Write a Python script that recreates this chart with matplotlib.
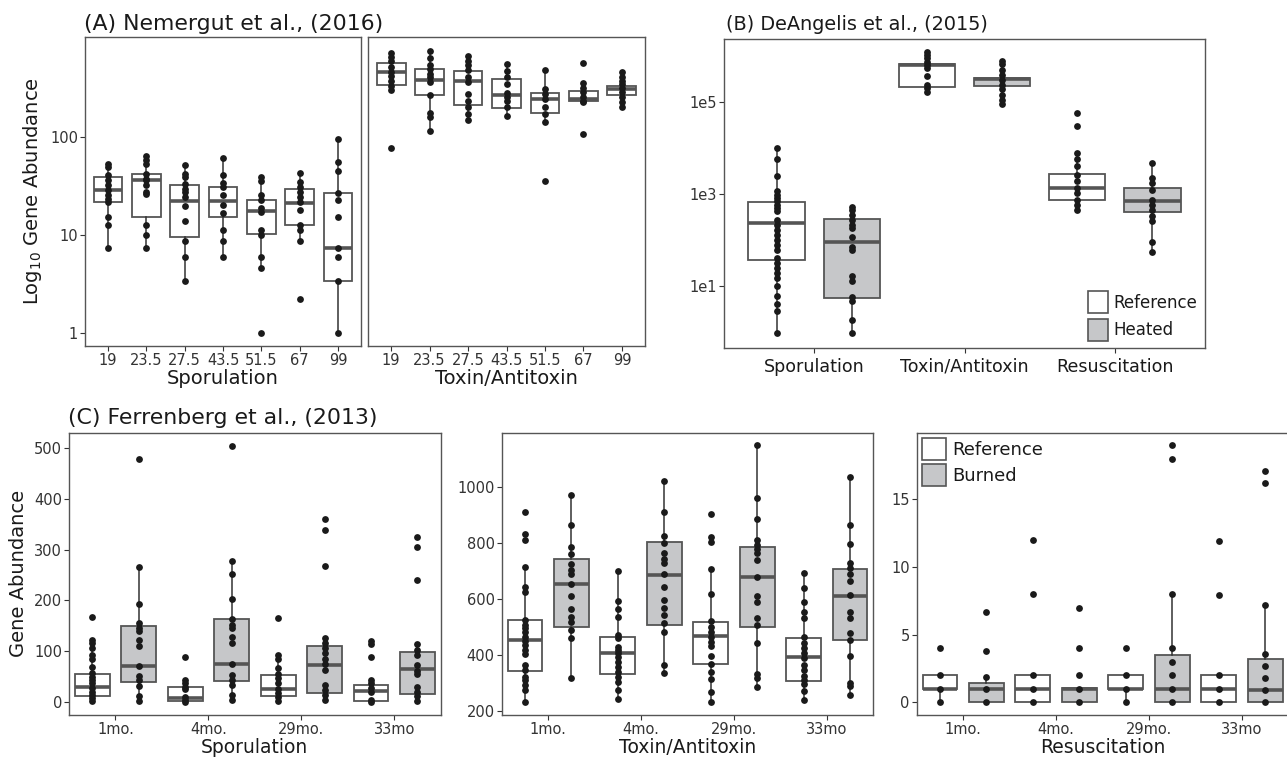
import numpy as np
import matplotlib.pyplot as plt
from matplotlib.patches import Patch

W, H = 1287, 758
fig = plt.figure(figsize=(W / 100, H / 100), dpi=100)

EDGE = '#555555'
GREY = '#C6C7C9'
DOT = '#1a1a1a'
TXT = '#1a1a1a'
TICK = '#333333'

# ---------------- Panel A : Nemergut et al. (2016) ----------------
A_categories = ['19', '23.5', '27.5', '43.5', '51.5', '67', '99']

A_spor_points = [
    [52.7, 49.5, 40.8, 36.2, 32.7, 29.1, 25.5, 23.2, 21.5, 15.3, 12.6, 7.3],
    [63.6, 58, 52.7, 42.3, 37.7, 36.2, 32.2, 27.6, 26.5, 12.6, 10, 7.3],
    [51.5, 42.3, 39.3, 33.5, 29.8, 27.6, 24.6, 19.7, 14, 8.6, 5.9, 3.4],
    [61.3, 40.8, 34, 31, 25.5, 20.2, 16.9, 11.2, 8.6, 5.9],
    [39.3, 35.7, 25.5, 22.7, 18.7, 17.1, 11.2, 10, 5.9, 4.6, 1.0],
    [43.3, 34.8, 31, 27.6, 24.6, 21.8, 18, 12.6, 11.2, 8.6, 2.2],
    [96, 55.5, 45, 27, 22.7, 15.3, 7.3, 5.9, 3.4, 1.0],
]
A_spor_q1 = [21.5, 15.3, 9.6, 15.1, 10.2, 12.6, 3.4]
A_spor_med = [28.7, 36.2, 22.3, 22.3, 17.5, 21.3, 7.3]
A_spor_q3 = [39.3, 41.5, 32.7, 30.6, 22.7, 29.8, 27]
A_spor_lo = [7.3, 7.3, 3.4, 5.9, 4.6, 8.6, 1.0]
A_spor_hi = [52.7, 63.6, 51.5, 61.3, 39.3, 43.3, 96]

A_tox_points = [
    [720, 660, 600, 516, 459, 424, 377, 335, 303, 78.2],
    [763, 642, 550, 498, 445, 408, 364, 270, 176, 160, 114],
    [675, 600, 538, 480, 410, 364, 276, 235, 202, 172, 150],
    [556, 472, 410, 349, 280, 256, 235, 202, 163],
    [481, 310, 276, 245, 202, 172, 143, 35.7],
    [574, 354, 317, 287, 256, 235, 228, 108],
    [458, 410, 377, 349, 317, 287, 256, 228, 205],
]
A_tox_q1 = [340, 268, 212, 200, 176, 235, 268]
A_tox_med = [463, 385, 370, 270, 246, 245, 308]
A_tox_q3 = [574, 498, 472, 391, 281, 298, 333]
A_tox_lo = [303, 114, 150, 163, 143, 228, 205]
A_tox_hi = [720, 763, 675, 556, 481, 354, 458]

# ---------------- Panel B : DeAngelis et al. (2015) ----------------
B_categories = ['Sporulation', 'Toxin/Antitoxin', 'Resuscitation']
B_groups = ['Reference', 'Heated']

B_ref_points = [
    [10100, 5660, 2390, 1130, 960, 813, 690, 584, 494, 419, 276, 215, 168, 131,
     102, 80, 62, 41, 32, 25, 19.4, 15, 10, 6.1, 4.2, 2.9, 0.98],
    [1.2e6, 1.02e6, 8.65e5, 7.3e5, 6.2e5, 5.25e5, 3.6e5, 2.28e5, 1.94e5, 1.64e5],
    [5.6e4, 2.9e4, 7640, 5660, 3930, 2600, 1860, 1340, 1040, 748, 584, 455],
]
B_ref_q1 = [36.5, 2.04e5, 723]
B_ref_med = [234, 6.3e5, 1315]
B_ref_q3 = [665, 6.6e5, 2690]
B_ref_lo = [0.98, 1.64e5, 455]
B_ref_hi = [10100, 1.2e6, 7640]

B_heat_points = [
    [519, 440, 355, 276, 215, 182, 115, 71, 60, 17, 12.8, 5.8, 4.7, 1.9, 0.98],
    [7.6e5, 6.4e5, 4.8e5, 3.8e5, 2.9e5, 2.3e5, 1.85e5, 1.39e5, 1.09e5, 8.8e4],
    [4650, 2200, 1710, 1230, 750, 584, 455, 326, 254, 89, 54],
]
B_heat_q1 = [5.6, 2.18e5, 405]
B_heat_med = [89, 3.09e5, 690]
B_heat_q3 = [281, 3.3e5, 1340]
B_heat_lo = [0.98, 8.8e4, 54]
B_heat_hi = [519, 7.6e5, 4650]

# ---------------- Panel C : Ferrenberg et al. (2013) ----------------
C_categories = ['1mo.', '4mo.', '29mo.', '33mo']
C_groups = ['Reference', 'Burned']

C_spor_ref_points = [
    [167.6, 122, 115.4, 105.6, 92.6, 84, 69.8, 56.7, 50.2, 43.7, 37.2, 28.7, 20.9, 14.3, 7.8, 1.3],
    [89, 43.7, 37.2, 30.6, 25.4, 11, 4.6, 0],
    [165.6, 92.6, 84, 67.8, 55.4, 47, 37.2, 26, 17.6, 9.8, 1.3],
    [120.6, 114, 89, 43.7, 37.2, 28.7, 20.9, 3.3, 0],
]
C_spor_ref_q1 = [12.4, 1.3, 12.4, 2.6]
C_spor_ref_med = [30.6, 7.8, 25.4, 22.2]
C_spor_ref_q3 = [54.8, 30.6, 53.5, 34.6]
C_spor_ref_lo = [1.3, 0, 1.3, 0]
C_spor_ref_hi = [115.4, 43.7, 92.6, 43.7]

C_spor_burn_points = [
    [478, 265, 193.6, 156.5, 146.7, 140, 123, 110, 71, 51.5, 43.7, 32.6, 13, 2.6],
    [503, 278, 252, 203, 164, 151, 145, 128, 117, 75, 53.5, 43.7, 33.9, 14.3, 3.3],
    [360, 338, 267, 127, 115.4, 105.6, 95.8, 84, 75, 63.2, 33.9, 24.1, 14.3, 3.3],
    [324, 304.5, 240.6, 114, 102, 92.6, 73, 61.3, 55.4, 30.6, 20.9, 12.4, 2.6],
]
C_spor_burn_q1 = [40.4, 42.4, 17.6, 16.3]
C_spor_burn_med = [71, 75, 73, 65.8]
C_spor_burn_q3 = [150, 164, 110, 97.8]
C_spor_burn_lo = [2.6, 3.3, 3.3, 2.6]
C_spor_burn_hi = [265, 278, 127, 114]

C_tox_ref_points = [
    [910.7, 831, 809.5, 714, 643, 622.6, 523.8, 506, 494, 482, 464, 450, 434.5,
     416.7, 401, 363, 345, 321, 309.5, 291.7, 274, 232],
    [698.8, 593, 562, 535.7, 470, 458, 428.6, 416.7, 404.8, 393, 375, 357, 339,
     321.4, 303.6, 273.8, 240.5],
    [901, 821.4, 801, 707, 617.9, 519, 500, 482, 464, 446, 431, 396.4, 366.7,
     339, 314, 268, 229.8],
    [692.9, 637, 587, 553.6, 532, 464, 440.5, 422.6, 404.8, 387, 363, 345,
     323.8, 309.5, 295, 270, 238],
]
C_tox_ref_q1 = [341.7, 329.8, 366.7, 307]
C_tox_ref_med = [452.4, 404.8, 467.9, 390.5]
C_tox_ref_q3 = [523.8, 464, 518, 458]
C_tox_ref_lo = [232, 240.5, 229.8, 238]
C_tox_ref_hi = [714, 698.8, 707, 692.9]

C_tox_burn_points = [
    [969, 864, 785.7, 759.5, 723.8, 702.4, 687, 651, 609.5, 563, 535.7, 518,
     488, 458, 315.5],
    [1021, 909.5, 825, 800, 762, 741.7, 726, 687, 640.5, 595, 565.5, 541.7,
     512, 482, 363, 333],
    [1148.8, 959.5, 883, 808, 790.5, 778.6, 762, 738, 678.6, 609.5, 587, 531,
     506, 440.5, 331, 315.5, 285.7],
    [1033, 863, 794, 728.6, 708, 688, 664.3, 613, 551, 529.8, 478.6, 452.4,
     396.4, 297.6, 288, 256],
]
C_tox_burn_q1 = [497.6, 506, 500, 452.4]
C_tox_burn_med = [651, 684.5, 676, 609.5]
C_tox_burn_q3 = [741.7, 801, 783, 704.8]
C_tox_burn_lo = [315.5, 333, 285.7, 256]
C_tox_burn_hi = [969, 1021, 1148.8, 1033]

C_res_ref_points = [
    [4, 2, 1, 0],
    [12, 8, 2, 1, 0],
    [4, 2, 1, 0],
    [11.9, 7.9, 2, 1, 0],
]
C_res_ref_q1 = [1, 0, 1, 0]
C_res_ref_med = [1, 1, 1, 1]
C_res_ref_q3 = [2, 2, 2, 2]
C_res_ref_lo = [0, 0, 0, 0]
C_res_ref_hi = [2, 2, 2, 2]

C_res_burn_points = [
    [6.65, 3.8, 1.9, 1, 0],
    [7, 4, 2, 1, 0],
    [19, 18, 8, 4, 3, 2, 1, 0],
    [17.1, 16.2, 7.2, 3.6, 2.7, 1.8, 0.9, 0],
]
C_res_burn_q1 = [0, 0, 0, 0]
C_res_burn_med = [1, 1, 1, 0.9]
C_res_burn_q3 = [1.45, 1.05, 3.5, 3.18]
C_res_burn_lo = [0, 0, 0, 0]
C_res_burn_hi = [1.9, 1.05, 8, 7.2]


# ---------------- helpers ----------------
def ax_at(l, t, r, b):
    return fig.add_axes([l / W, 1 - b / H, (r - l) / W, (b - t) / H])


def style(ax):
    for s in ax.spines.values():
        s.set_color(EDGE)
        s.set_linewidth(1.0)
    ax.tick_params(length=3.5, width=0.8, color=TICK, labelsize=10.5,
                   labelcolor=TICK, pad=1.5)
    ax.minorticks_off()


def boxes(ax, pos, q1, med, q3, lo, hi, pts, width, fc):
    stats = [dict(q1=a, med=m, q3=b, whislo=l, whishi=h, fliers=[])
             for a, m, b, l, h in zip(q1, med, q3, lo, hi)]
    ax.bxp(stats, positions=pos, widths=width, patch_artist=True,
           showfliers=False, showcaps=False, manage_ticks=False,
           boxprops=dict(facecolor=fc, edgecolor=EDGE, linewidth=1.3),
           medianprops=dict(color=EDGE, linewidth=2.6, solid_capstyle='butt'),
           whiskerprops=dict(color='#333333', linewidth=1.1))
    for x, p in zip(pos, pts):
        ax.scatter(np.full(len(p), x), p, s=24, color=DOT, zorder=4,
                   linewidths=0)


# ---------------- Panel A ----------------
xA = np.arange(len(A_categories))
axA1 = ax_at(85, 37, 361, 346)
axA2 = ax_at(368, 37, 645, 346)
for ax, pts, q1, md, q3, lo, hi, lab in [
        (axA1, A_spor_points, A_spor_q1, A_spor_med, A_spor_q3, A_spor_lo, A_spor_hi, 'Sporulation'),
        (axA2, A_tox_points, A_tox_q1, A_tox_med, A_tox_q3, A_tox_lo, A_tox_hi, 'Toxin/Antitoxin')]:
    ax.set_yscale('log')
    boxes(ax, xA, q1, md, q3, lo, hi, pts, 0.75, 'white')
    ax.set_xlim(-0.6, 6.6)
    ax.set_ylim(0.737, 1050)
    style(ax)
    ax.set_xticks(xA)
    ax.set_xticklabels(A_categories)
    ax.set_xlabel(lab, fontsize=14, color=TXT, labelpad=0.5)
axA1.set_yticks([1, 10, 100])
axA1.set_yticklabels(['1', '10', '100'])
axA1.set_ylabel('Log$_{10}$ Gene Abundance', fontsize=14, color=TXT, labelpad=4)
axA2.set_yticks([])
fig.text(84 / W, 1 - 29.5 / H, '(A) Nemergut et al., (2016)', fontsize=15.8,
         color=TXT, ha='left', va='baseline')

# ---------------- Panel B ----------------
xB = np.arange(len(B_categories))
axB = ax_at(724, 39, 1205, 348)
axB.set_yscale('log')
boxes(axB, xB - 0.25, B_ref_q1, B_ref_med, B_ref_q3, B_ref_lo, B_ref_hi,
      B_ref_points, 0.375, 'white')
boxes(axB, xB + 0.25, B_heat_q1, B_heat_med, B_heat_q3, B_heat_lo, B_heat_hi,
      B_heat_points, 0.375, GREY)
axB.set_xlim(-0.6, 2.6)
axB.set_ylim(0.46, 2.26e6)
style(axB)
axB.set_yticks([10, 1e3, 1e5])
axB.set_yticklabels(['1e1', '1e3', '1e5'])
axB.set_xticks(xB)
axB.set_xticklabels(B_categories, fontsize=12.6, color=TXT)
axB.tick_params(axis='x', pad=3.5)
handles = [Patch(facecolor='white', edgecolor=EDGE, linewidth=1.2),
           Patch(facecolor=GREY, edgecolor=EDGE, linewidth=1.2)]
axB.legend(handles, B_groups, loc='lower right', frameon=False, fontsize=12,
           handlelength=1.2, handleheight=1.6, labelspacing=0.38,
           handletextpad=0.35, borderaxespad=0.35, borderpad=0.1,
           labelcolor=TXT)
fig.text(726 / W, 1 - 30 / H, '(B) DeAngelis et al., (2015)', fontsize=13.9,
         color=TXT, ha='left', va='baseline')

# ---------------- Panel C ----------------
xC = np.arange(len(C_categories))
axC1 = ax_at(69, 432.7, 440.7, 715)
axC2 = ax_at(501.7, 432.7, 873.3, 715)
axC3 = ax_at(916.7, 432.7, 1288.5, 715)
panels = [
    (axC1, 'Sporulation', (-25.3, 530), [0, 100, 200, 300, 400, 500],
     (C_spor_ref_points, C_spor_ref_q1, C_spor_ref_med, C_spor_ref_q3, C_spor_ref_lo, C_spor_ref_hi),
     (C_spor_burn_points, C_spor_burn_q1, C_spor_burn_med, C_spor_burn_q3, C_spor_burn_lo, C_spor_burn_hi)),
    (axC2, 'Toxin/Antitoxin', (184.5, 1193), [200, 400, 600, 800, 1000],
     (C_tox_ref_points, C_tox_ref_q1, C_tox_ref_med, C_tox_ref_q3, C_tox_ref_lo, C_tox_ref_hi),
     (C_tox_burn_points, C_tox_burn_q1, C_tox_burn_med, C_tox_burn_q3, C_tox_burn_lo, C_tox_burn_hi)),
    (axC3, 'Resuscitation', (-0.936, 19.93), [0, 5, 10, 15],
     (C_res_ref_points, C_res_ref_q1, C_res_ref_med, C_res_ref_q3, C_res_ref_lo, C_res_ref_hi),
     (C_res_burn_points, C_res_burn_q1, C_res_burn_med, C_res_burn_q3, C_res_burn_lo, C_res_burn_hi)),
]
for ax, lab, ylim, yt, ref, burn in panels:
    p, a, m, b, lo, hi = ref
    boxes(ax, xC - 0.25, a, m, b, lo, hi, p, 0.375, 'white')
    p, a, m, b, lo, hi = burn
    boxes(ax, xC + 0.25, a, m, b, lo, hi, p, 0.375, GREY)
    ax.set_xlim(-0.5, 3.5)
    ax.set_ylim(*ylim)
    style(ax)
    ax.set_yticks(yt)
    ax.set_xticks(xC)
    ax.set_xticklabels(C_categories)
    ax.set_xlabel(lab, fontsize=13.5, color=TXT, labelpad=1.0)
axC1.set_ylabel('Gene Abundance', fontsize=14, color=TXT, labelpad=4)
handles = [Patch(facecolor='white', edgecolor=EDGE, linewidth=1.2),
           Patch(facecolor=GREY, edgecolor=EDGE, linewidth=1.2)]
axC3.legend(handles, C_groups, loc='upper left', frameon=False, fontsize=13,
            handlelength=1.35, handleheight=1.45, labelspacing=0.25,
            handletextpad=0.3, borderaxespad=0.2, borderpad=0.1,
            labelcolor=TXT)
fig.text(68 / W, 1 - 424.3 / H, '(C) Ferrenberg et al., (2013)', fontsize=15.8,
         color=TXT, ha='left', va='baseline')

fig.savefig('out.png', dpi=100, facecolor='white')
